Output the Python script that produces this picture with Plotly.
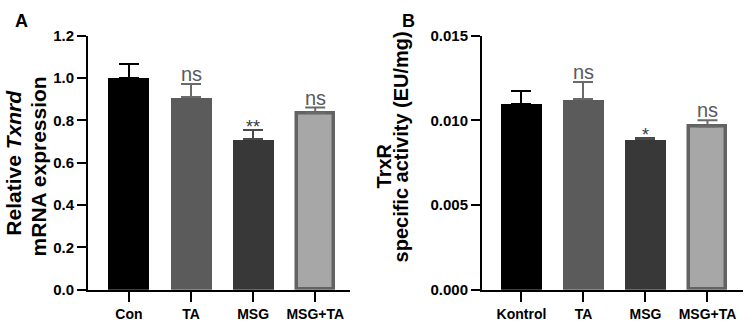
import plotly.graph_objects as go

# ---------------- data ----------------
cats_a = ["Con", "TA", "MSG", "MSG+TA"]
mean_a = [1.0, 0.909, 0.711, 0.834]
err_a = [0.067, 0.063, 0.044, 0.026]
sig_a = ["", "ns", "**", "ns"]

cats_b = ["Kontrol", "TA", "MSG", "MSG+TA"]
mean_b = [0.01097, 0.01125, 0.00888, 0.00963]
err_b = [0.00078, 0.00099, 0.00009, 0.00037]
sig_b = ["", "ns", "*", "ns"]

yticks_a = [0.0, 0.2, 0.4, 0.6, 0.8, 1.0, 1.2]
yticks_b = [0.0, 0.005, 0.010, 0.015]
ytext_b = ["0.000", "0.005", "0.010", "0.015"]

# ---------------- styles ----------------
fills = ["#000000", "#5b5b5b", "#383838", "#a7a7a7"]
edges = ["#000000", "#5b5b5b", "#383838", "#636363"]
edge_w = [0, 0, 0, 3.5]
errcol = ["#000000", "#6a6a6a", "#4a4a4a", "#6a6a6a"]
FONT = "Liberation Sans, Arial, Helvetica, sans-serif"
W, H = 751, 329

fig = go.Figure()
pos = [0, 1, 2, 3]

def add_panel(means, errs, xa, ya):
    for i, (m, e) in enumerate(zip(means, errs)):
        fig.add_trace(go.Bar(
            x=[pos[i]], y=[m], width=0.66 if edge_w[i] == 0 else 0.60,
            marker=dict(color=fills[i], line=dict(color=edges[i], width=edge_w[i])),
            error_y=dict(type="data", array=[e], arrayminus=[0], symmetric=False,
                         color=errcol[i], thickness=2, width=10),
            xaxis=xa, yaxis=ya, showlegend=False, hoverinfo="skip"))

add_panel(mean_a, err_a, "x", "y")
add_panel(mean_b, err_b, "x2", "y2")

ydom = [33 / H, 301 / H]
axline = dict(showline=True, linewidth=2, linecolor="black", ticks="outside",
              tickwidth=2, tickcolor="black", showgrid=False, zeroline=False)
xfont = dict(family=FONT, size=14, color="black", weight="bold")
yfont = dict(family=FONT, size=15, color="black", weight="bold")

fig.update_layout(
    width=W, height=H, margin=dict(l=0, r=0, t=0, b=0),
    paper_bgcolor="white", plot_bgcolor="white", bargap=0,
    xaxis=dict(domain=[88 / W, 350 / W], range=[-0.66, 3.56], anchor="y",
               tickvals=pos, ticktext=cats_a, ticklen=10, tickfont=xfont, **axline),
    yaxis=dict(domain=ydom, range=[0, 1.2], anchor="x", tickvals=yticks_a,
               tickformat=".1f", ticklen=9, tickfont=yfont, **axline),
    xaxis2=dict(domain=[482 / W, 743 / W], range=[-0.637, 3.573], anchor="y2",
                tickvals=pos, ticktext=cats_b, ticklen=10, tickfont=xfont, **axline),
    yaxis2=dict(domain=ydom, range=[0, 0.015], anchor="x2", tickvals=yticks_b,
                ticktext=ytext_b, ticklen=9, tickfont=yfont, **axline),
)

# significance labels
def add_sig(means, errs, sigs, xr, yr):
    for i, s in enumerate(sigs):
        if not s:
            continue
        star = s.startswith("*")
        fig.add_annotation(x=pos[i], y=means[i] + errs[i], xref=xr, yref=yr,
                           text=s, showarrow=False, xanchor="center", yanchor="bottom",
                           yshift=-9 if star else -3,
                           font=dict(family=FONT, size=18 if star else 20,
                                     color="#3a3a3a" if star else "#5a5a5a"))

add_sig(mean_a, err_a, sig_a, "x", "y")
add_sig(mean_b, err_b, sig_b, "x2", "y2")

# axis titles (two lines each, rotated)
def ytitle(text, xpx, ypx, size):
    fig.add_annotation(x=xpx / W, y=1 - ypx / H, xref="paper", yref="paper",
                       text=text, textangle=-90, showarrow=False,
                       xanchor="center", yanchor="middle",
                       font=dict(family=FONT, size=size, color="black", weight="bold"))

ytitle("Relative <i>Txnrd</i>", 14, 162, 21)
ytitle("mRNA expression", 38, 166, 21)
ytitle("TrxR", 384, 166, 20)
ytitle("specific activity (EU/mg)", 401, 146, 20)

# panel letters
for letter, xpx in (("A", 21), ("B", 408)):
    fig.add_annotation(x=xpx / W, y=1 - 13 / H, xref="paper", yref="paper",
                       text=letter, showarrow=False, xanchor="center", yanchor="middle",
                       font=dict(family=FONT, size=18, color="black", weight="bold"))

fig.write_html("out.html")
